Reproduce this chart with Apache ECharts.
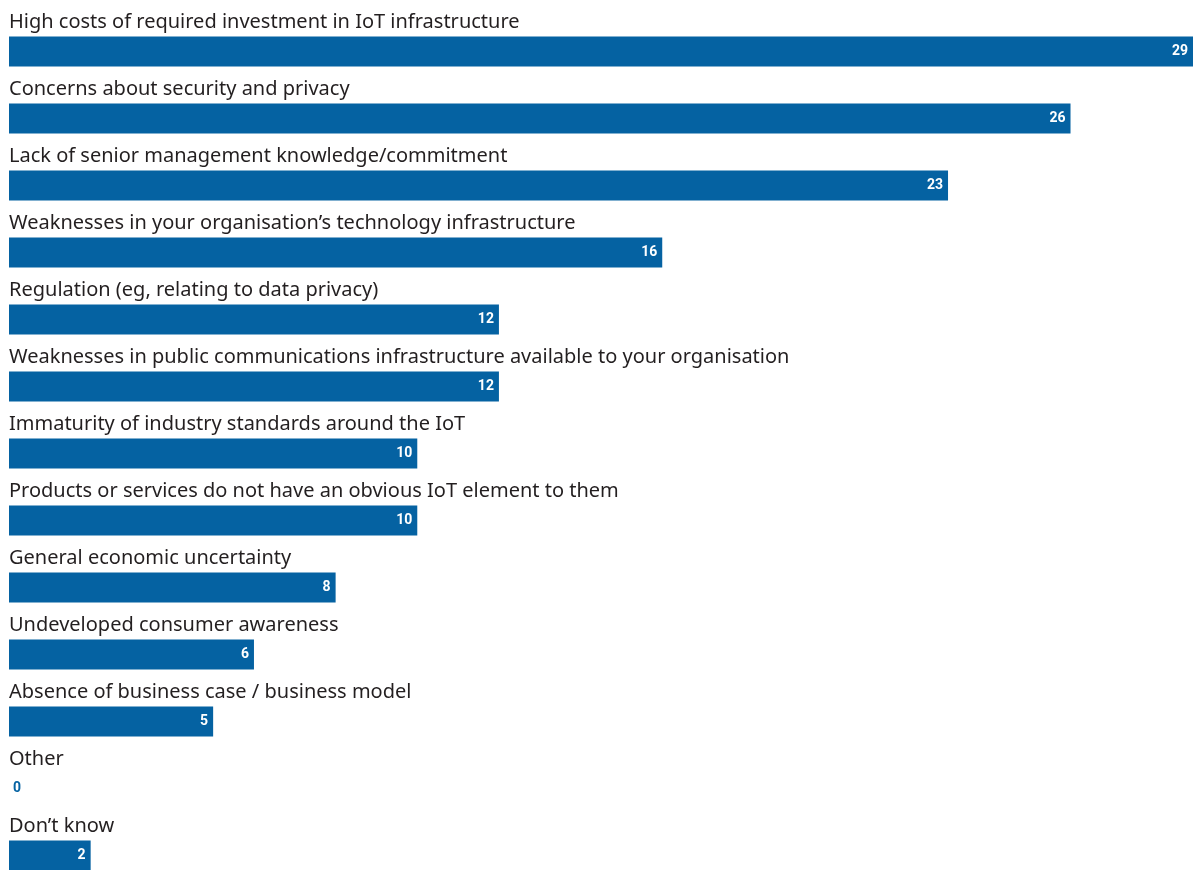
<!DOCTYPE html>
<html>
<head>
<meta charset="utf-8">
<script src="https://cdn.jsdelivr.net/npm/echarts@6/dist/echarts.min.js"></script>
<style>html,body{margin:0;padding:0;background:#fff}#c{width:1204px;height:870px}</style>
</head>
<body>
<div id="c"></div>
<script>
const categories = [
  "High costs of required investment in IoT infrastructure",
  "Concerns about security and privacy",
  "Lack of senior management knowledge/commitment",
  "Weaknesses in your organisation\u2019s technology infrastructure",
  "Regulation (eg, relating to data privacy)",
  "Weaknesses in public communications infrastructure available to your organisation",
  "Immaturity of industry standards around the IoT",
  "Products or services do not have an obvious IoT element to them",
  "General economic uncertainty",
  "Undeveloped consumer awareness",
  "Absence of business case / business model",
  "Other",
  "Don\u2019t know"
];
const values = [29, 26, 23, 16, 12, 12, 10, 10, 8, 6, 5, 0, 2];

const BLUE = '#0562a2';
const chart = echarts.init(document.getElementById('c'), null, {renderer: 'canvas'});
chart.setOption({
  animation: false,
  grid: {left: 9, right: 11, top: 18, bottom: -19, containLabel: false, outerBoundsMode: 'none'},
  xAxis: {type: 'value', min: 0, max: 29, show: false},
  yAxis: {
    type: 'category', data: categories, inverse: true,
    axisLine: {show: false}, axisTick: {show: false}, splitLine: {show: false},
    axisLabel: {
      inside: true, margin: 0, align: 'left', verticalAlign: 'bottom',
      padding: [0, 0, 19, 0],
      fontFamily: 'Noto Sans', fontSize: 20, color: '#231f20'
    }
  },
  series: [{
    type: 'bar', barWidth: 30,
    itemStyle: {color: BLUE},
    label: {
      show: true, position: 'insideRight', distance: 5,
      color: '#fff', fontWeight: 'bold', fontSize: 14, fontFamily: 'Roboto'
    },
    data: values.map(v => v === 0
      ? {value: v, label: {position: 'right', distance: 4, color: BLUE}}
      : v)
  }]
});
</script>
</body>
</html>
